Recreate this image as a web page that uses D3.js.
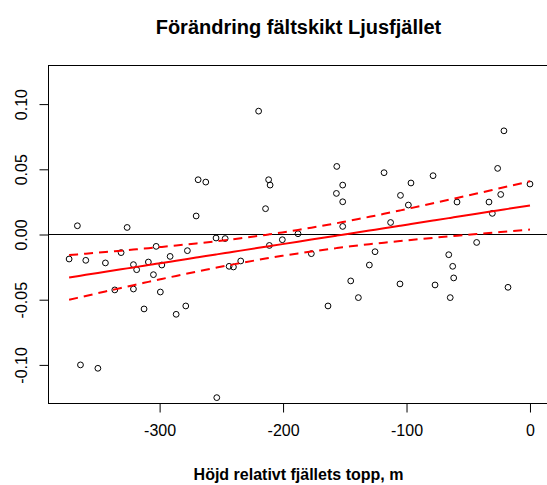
<!DOCTYPE html>
<html>
<head>
<meta charset="utf-8">
<script src="https://cdn.jsdelivr.net/npm/d3@7/dist/d3.min.js"></script>
<style>
  html, body { margin: 0; padding: 0; background: #fff; }
  svg { display: block; font-family: "Liberation Sans", Arial, sans-serif; }
</style>
</head>
<body>
<svg id="chart" width="547" height="485"></svg>
<script>
// Height below the summit (m) for each plot
const heights = [
  -366.6, -326.3, -373.3, -359.8, -343.9, -331.2, -321.2, -318.6, -336.3, -321.2,
  -364.1, -350.0, -219.8, -268.8, -262.6, -211.7, -210.5, -270.4, -214.2, -254.3,
  -246.9, -302.8, -309.1, -298.2, -291.5, -277.5, -305.0, -299.4, -312.6, -286.6,
  -278.8, -243.7, -240.2, -234.3, -211.1, -253.7, -156.5, -151.7, -156.8, -151.7,
  -118.2, -104.9, -151.7, -112.9, -187.9, -200.6, -177.1, -125.5, -130.1, -145.2,
  -139.0, -163.6, -105.3, -21.1, -78.5, -96.4, -26.2, 0.0, -98.5, -59.1,
  -33.2, -23.7, -30.5, -43.2, -65.8, -62.6, -61.8, -76.9, -64.6, -17.8
];
// Change in the field layer at each plot
const changes = [
  0.0067, 0.0054, -0.0188, -0.0198, -0.0218, -0.0139, -0.0231, -0.0270, -0.0425, -0.0418,
  -0.1000, -0.1026, 0.0946, 0.0420, 0.0402, 0.0420, 0.0379, 0.0142, 0.0198, -0.0027,
  -0.0031, -0.0091, -0.0211, -0.0234, -0.0168, -0.0124, -0.0308, -0.0441, -0.0571, -0.0612,
  -0.0548, -0.0244, -0.0249, -0.0203, -0.0084, -0.1251, 0.0522, 0.0379, 0.0315, 0.0251,
  0.0474, 0.0300, 0.0062, 0.0092, 0.0006, -0.0040, -0.0147, -0.0132, -0.0234, -0.0356,
  -0.0484, -0.0548, -0.0379, 0.0795, 0.0451, 0.0395, 0.0507, 0.0387, 0.0226, 0.0249,
  0.0249, 0.0307, 0.0162, -0.0061, -0.0155, -0.0244, -0.0333, -0.0387, -0.0484, -0.0405
];

const xTicks = [-300, -200, -100, 0];
const yTicks = [-0.10, -0.05, 0.00, 0.05, 0.10];
const xDomain = [-390, 15];
const yDomain = [-0.1296, 0.1296];
const titleText = "Förändring fältskikt Ljusfjället";
const xLabelText = "Höjd relativt fjällets topp, m";

const svg = d3.select("#chart");
const plotL = 48.5, plotR = 548.5, plotT = 65.5, plotB = 403.5;

const x = d3.scaleLinear().domain(xDomain).range([plotL, plotR]);
const y = d3.scaleLinear().domain(yDomain).range([plotB, plotT]);

// Ordinary least squares fit with a 95% confidence band
const n = heights.length;
const mx = d3.mean(heights), my = d3.mean(changes);
let sxx = 0, sxy = 0;
for (let i = 0; i < n; i++) {
  sxx += (heights[i] - mx) ** 2;
  sxy += (heights[i] - mx) * (changes[i] - my);
}
const slope = sxy / sxx, intercept = my - slope * mx;
let sse = 0;
for (let i = 0; i < n; i++) sse += (changes[i] - intercept - slope * heights[i]) ** 2;
const s = Math.sqrt(sse / (n - 2));
const tq = 1.9955; // t quantile, 0.975, df = 68
const sortedX = heights.slice().sort((a, b) => a - b);
const fit = sortedX.map(h => {
  const yhat = intercept + slope * h;
  const se = s * Math.sqrt(1 / n + (h - mx) ** 2 / sxx);
  return { h, yhat, lo: yhat - tq * se, hi: yhat + tq * se };
});

const fmtY = d => d3.format(".2f")(d).replace("\u2212", "-");
const fmtX = d => d3.format("d")(d).replace("\u2212", "-");

// Frame
svg.append("rect")
  .attr("x", plotL).attr("y", plotT)
  .attr("width", plotR - plotL).attr("height", plotB - plotT)
  .attr("fill", "none").attr("stroke", "#000").attr("stroke-width", 1);

// X axis
const gx = svg.append("g").attr("transform", `translate(0,${plotB})`)
  .call(d3.axisBottom(x).tickValues(xTicks).tickSize(9).tickPadding(12).tickFormat(fmtX));
gx.select(".domain").remove();
gx.selectAll("line").attr("stroke", "#000");
gx.selectAll("text").attr("font-size", 16).attr("fill", "#000")
  .attr("font-family", "Liberation Sans, Arial, sans-serif");

// Y axis with rotated labels
const gy = svg.append("g").attr("transform", `translate(${plotL},0)`)
  .call(d3.axisLeft(y).tickValues(yTicks).tickSize(9).tickFormat(fmtY));
gy.select(".domain").remove();
gy.selectAll("line").attr("stroke", "#000");
gy.selectAll("text")
  .attr("font-size", 16).attr("fill", "#000")
  .attr("font-family", "Liberation Sans, Arial, sans-serif")
  .attr("text-anchor", "middle")
  .attr("x", 0).attr("y", 0).attr("dy", null)
  .attr("transform", `translate(${27 - plotL},0) rotate(-90)`);

// Zero reference line
svg.append("line")
  .attr("x1", plotL).attr("x2", plotR)
  .attr("y1", y(0)).attr("y2", y(0))
  .attr("stroke", "#000").attr("stroke-width", 1);

// Observations
svg.append("g").selectAll("circle")
  .data(heights.map((h, i) => [h, changes[i]]))
  .join("circle")
  .attr("cx", d => x(d[0])).attr("cy", d => y(d[1]))
  .attr("r", 2.9)
  .attr("fill", "none").attr("stroke", "#000").attr("stroke-width", 1);

// Fitted line and confidence band
const lineOf = key => d3.line().x(d => x(d.h)).y(d => y(d[key]));
svg.append("path").datum(fit).attr("d", lineOf("yhat"))
  .attr("fill", "none").attr("stroke", "#ff0000").attr("stroke-width", 2);
["lo", "hi"].forEach(k => {
  svg.append("path").datum(fit).attr("d", lineOf(k))
    .attr("fill", "none").attr("stroke", "#ff0000").attr("stroke-width", 2)
    .attr("stroke-dasharray", "9,6");
});

// Titles
svg.append("text")
  .attr("x", (plotL + plotR) / 2).attr("y", 34)
  .attr("text-anchor", "middle").attr("font-size", 20).attr("font-weight", "bold")
  .text(titleText);
svg.append("text")
  .attr("x", (plotL + plotR) / 2).attr("y", 480)
  .attr("text-anchor", "middle").attr("font-size", 16).attr("font-weight", "bold")
  .text(xLabelText);
</script>
</body>
</html>
